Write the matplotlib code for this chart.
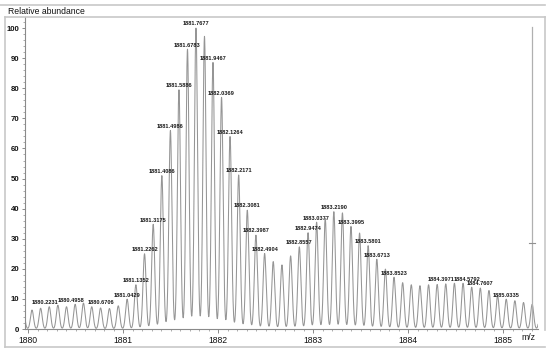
#!/usr/bin/env python3
"""Isotope envelope of a high-resolution mass spectrum (profile mode)."""

from __future__ import annotations

import matplotlib

matplotlib.use("Agg")
import matplotlib.pyplot as plt  # noqa: E402
import numpy as np  # noqa: E402
from matplotlib.lines import Line2D  # noqa: E402
from matplotlib.ticker import MultipleLocator  # noqa: E402

# centroid m/z of each isotope peak (labelled ones read exactly, others estimated)
PEAK_MZ = [
    1879.9510, 1880.0417, 1880.1324, 1880.2231, 1880.3140, 1880.4049,
    1880.4958, 1880.5832, 1880.6706, 1880.7637, 1880.8568, 1880.9498,
    1881.0429, 1881.1352, 1881.2262, 1881.3175, 1881.4086, 1881.4986,
    1881.5886, 1881.6783, 1881.7677, 1881.8572, 1881.9467, 1882.0369,
    1882.1264, 1882.2171, 1882.3081, 1882.3987, 1882.4904, 1882.5810,
    1882.6727, 1882.7640, 1882.8557, 1882.9474, 1883.0377, 1883.1283,
    1883.2190, 1883.3093, 1883.3995, 1883.4898, 1883.5801, 1883.6713,
    1883.7618, 1883.8523, 1883.9433, 1884.0342, 1884.1252, 1884.2161,
    1884.3066, 1884.3971, 1884.4882, 1884.5792, 1884.6700, 1884.7607,
    1884.8516, 1884.9426, 1885.0335, 1885.1245, 1885.2155, 1885.3065,
    1885.3975,
]
PEAK_HEIGHT = [
    6.0, 6.3, 6.9, 7.4, 7.9, 7.4,
    8.2, 8.6, 7.4, 7.0, 6.8, 7.7,
    9.9, 14.7, 25.0, 34.8, 51.0, 66.0,
    79.5, 93.0, 100.0, 97.3, 88.6, 77.0,
    64.0, 51.2, 39.5, 31.2, 25.1, 22.4,
    21.3, 24.3, 27.3, 32.0, 35.5, 36.8,
    39.0, 38.6, 34.1, 31.9, 27.7, 23.2,
    19.9, 17.2, 15.4, 14.7, 14.4, 14.7,
    14.8, 15.0, 15.2, 15.2, 13.9, 13.6,
    12.8, 11.0, 9.9, 9.4, 8.8, 8.2,
    7.5,
]
LABELLED_MZ = [
    "1880.2231", "1880.4958", "1880.6706", "1881.0429", "1881.1352",
    "1881.2262", "1881.3175", "1881.4086", "1881.4986", "1881.5886",
    "1881.6783", "1881.7677", "1881.9467", "1882.0369", "1882.1264",
    "1882.2171", "1882.3081", "1882.3987", "1882.4904", "1882.8557",
    "1882.9474", "1883.0377", "1883.2190", "1883.3995", "1883.5801",
    "1883.6713", "1883.8523", "1884.3971", "1884.5792", "1884.7607",
    "1885.0335",
]
CURSOR_MZ = 1885.3065
CURSOR_MARK = 28.6

# label nudges (points) where the instrument moved labels to avoid clashes
LABEL_NUDGE = {
    "1880.2231": -3.0,
    "1880.4958": -3.0,
    "1880.6706": 6.5,
    "1884.3971": -3.6,
    "1884.5792": 2.6,
}

W, H = 550, 353
GREY = "#959595"
AXIS = "#8a8a8a"
FRAME = "#c8c8c8"


def px(x: float, y: float) -> tuple[float, float]:
    return x / W, 1 - y / H


def main() -> int:
    plt.rcParams["font.family"] = ["Liberation Sans", "DejaVu Sans"]
    fig = plt.figure(figsize=(W / 100, H / 100), dpi=100)

    # panel frame with header strip
    for xs, ys in [
        ((0, 545), (4.5, 4.5)),
        ((5, 545), (17, 17)),
        ((5, 5), (17, 347)),
        ((545, 545), (17, 330)),
        ((5, 545), (347, 347)),
    ]:
        (x0, y0), (x1, y1) = px(xs[0], ys[0]), px(xs[1], ys[1])
        fig.add_artist(Line2D([x0, x1], [y0, y1], color=FRAME, lw=1.2,
                              transform=fig.transFigure))
    fig.text(*px(8, 11), "Relative abundance", fontsize=6.2,
             va="center", ha="left", color="#111111")

    left, bottom = px(25, 329)
    right, top = px(538, 17)
    ax = fig.add_axes([left, bottom, right - left, top - bottom])

    mz = np.linspace(1879.90, 1885.45, 6000)
    sigma = 0.0162
    profile = np.zeros_like(mz)
    for centre, height in zip(PEAK_MZ, PEAK_HEIGHT):
        profile += height * np.exp(-0.5 * ((mz - centre) / sigma) ** 2)
    ax.plot(mz, profile, color=GREY, lw=0.75)

    for label in LABELLED_MZ:
        centre = float(label)
        height = PEAK_HEIGHT[min(range(len(PEAK_MZ)),
                                 key=lambda i: abs(PEAK_MZ[i] - centre))]
        ax.annotate(label, (centre, height), xytext=(LABEL_NUDGE.get(label, 0.0), 1.2),
                    textcoords="offset points", fontsize=4.1, fontweight="bold",
                    ha="center", va="bottom", color="#1a1a1a")

    ax.plot([CURSOR_MZ, CURSOR_MZ], [0, 100.5], color="#b0b0b0", lw=0.9)
    ax.plot([CURSOR_MZ - 0.032, CURSOR_MZ + 0.032], [CURSOR_MARK, CURSOR_MARK],
            color="#909090", lw=0.8)

    ax.set_xlim(1879.968, 1885.368)
    ax.set_ylim(0, 103.7)
    ax.xaxis.set_major_locator(MultipleLocator(1))
    ax.xaxis.set_minor_locator(MultipleLocator(0.1))
    ax.yaxis.set_major_locator(MultipleLocator(10))
    ax.yaxis.set_minor_locator(MultipleLocator(2))
    ax.tick_params(axis="x", which="major", length=3, width=0.7, pad=2,
                   labelsize=6.2, colors="#111111")
    ax.tick_params(axis="x", which="minor", length=1.5, width=0.5)
    ax.tick_params(axis="y", which="major", length=2.5, width=0.7, pad=1.5,
                   labelsize=5.6, colors="#111111")
    ax.tick_params(axis="y", which="minor", length=1.4, width=0.5)
    for tick in ax.get_yticklabels():
        tick.set_fontweight("bold")
    ax.tick_params(which="both", color=AXIS)

    for side in ("top", "right"):
        ax.spines[side].set_visible(False)
    for side in ("left", "bottom"):
        ax.spines[side].set_color(AXIS)
        ax.spines[side].set_linewidth(0.8)
    ax.set_facecolor("none")

    fig.text(*px(528, 338), "m/z", fontsize=6.2, ha="center", va="center",
             color="#111111")

    fig.savefig("out.png", dpi=100)
    plt.close(fig)
    return 0


if __name__ == "__main__":
    raise SystemExit(main())
